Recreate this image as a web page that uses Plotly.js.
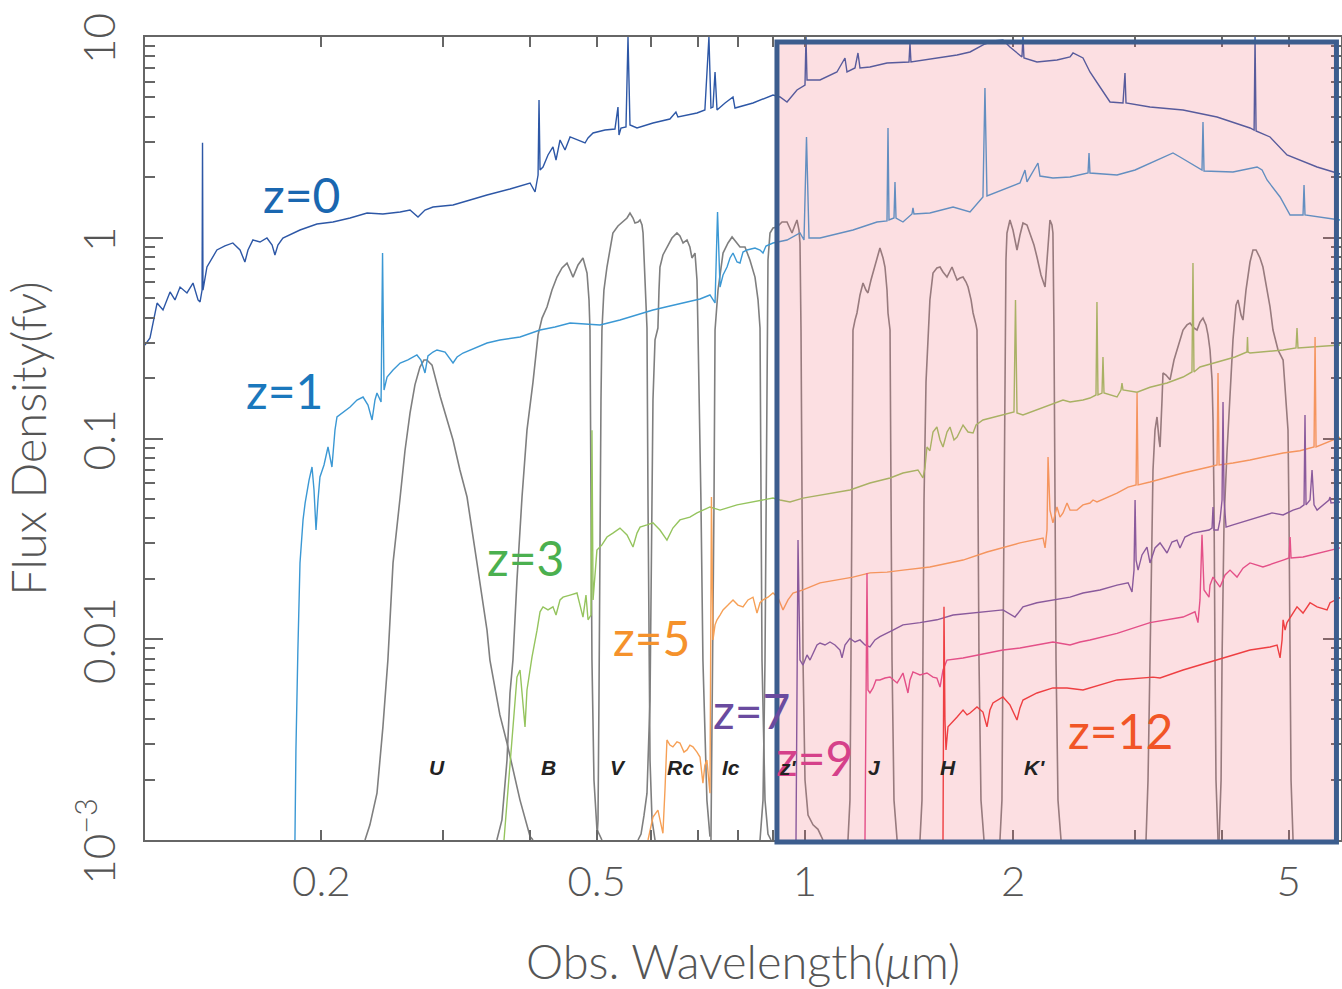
<!DOCTYPE html>
<html><head><meta charset="utf-8">
<script src="https://cdn.plot.ly/plotly-3.0.1.min.js"></script>
<style>html,body{margin:0;padding:0;background:#fff;}#chart{width:1342px;height:989px;}</style>
</head><body><div id="chart"></div>
<script>
// ---- spectra (observed wavelength in micron, flux density f_nu) ----
const z0Wave = [0.1112,0.1131,0.1158,0.1181,0.1209,0.1229,0.1250,0.1279,0.1305,0.1327,0.1336,0.1345,0.1347,0.1349,0.1367,0.1390,0.1413,0.1451,0.1490,0.1526,0.1551,0.1567,0.1593,0.1631,0.1669,0.1698,0.1714,0.1731,0.1760,0.1863,0.1971,0.2079,0.2201,0.2329,0.2455,0.2600,0.2687,0.2759,0.2824,0.2900,0.3100,0.3281,0.3471,0.3747,0.4006,0.4073,0.4114,0.4127,0.4141,0.4182,0.4252,0.4323,0.4367,0.4426,0.4500,0.4576,0.4699,0.4810,0.4858,0.4940,0.5140,0.5313,0.5367,0.5385,0.5421,0.5512,0.5549,0.5586,0.5718,0.6030,0.6379,0.6508,0.6552,0.6981,0.7167,0.7264,0.7313,0.7362,0.7413,0.7462,0.7664,0.7870,0.7922,0.8411,0.8990,0.9203,0.9419,0.9737,1.0000,1.0033,1.0067,1.0512,1.1121,1.1423,1.1500,1.1810,1.1928,1.2008,1.2412,1.3137,1.4134,1.4181,1.4228,1.5510,1.6587,1.7318,1.8199,1.8691,1.9322,1.9777,2.0584,2.0654,2.0723,2.1637,2.3128,2.4155,2.4395,2.5219,2.5811,2.6686,2.7592,2.8810,2.9001,2.9100,3.1520,3.5181,3.9391,4.3963,4.4566,4.4706,4.4857,4.6989,4.9720,5.4954,5.9318];
const z0Flux = [0.292,0.317,0.473,0.437,0.537,0.490,0.568,0.531,0.595,0.490,0.479,0.549,2.97,0.549,0.715,0.793,0.869,0.910,0.942,0.869,0.757,0.869,0.975,0.952,0.997,0.920,0.821,0.920,0.997,1.093,1.171,1.198,1.254,1.328,1.313,1.344,1.375,1.269,1.375,1.423,1.456,1.542,1.633,1.749,1.874,1.690,2.054,4.856,2.175,2.251,2.584,2.832,2.439,3.069,2.736,3.177,3.069,2.965,3.140,3.325,3.441,3.481,4.479,3.250,3.522,3.562,10,3.645,3.522,3.729,3.904,4.230,3.996,4.182,4.329,10,4.429,4.479,6.694,4.329,4.691,5.024,4.429,4.691,5.141,5.024,4.746,5.445,5.767,10,6.108,6.108,6.694,7.860,6.694,7.010,8.325,7.010,7.091,7.421,7.507,9.336,7.507,7.860,8.136,8.421,9.228,9.552,9.663,8.916,7.951,10,7.860,7.507,7.682,7.951,8.325,7.860,6.694,5.636,4.746,4.691,6.617,4.691,4.479,4.329,3.996,3.522,3.441,10,3.402,3.177,2.584,2.251,2.078];

const z1Wave = [0.1832,0.1838,0.1850,0.1863,0.1882,0.1895,0.1920,0.1939,0.1952,0.1965,0.1978,0.1991,0.2018,0.2045,0.2072,0.2093,0.2107,0.2150,0.2201,0.2252,0.2298,0.2336,0.2368,0.2391,0.2407,0.2440,0.2452,0.2464,0.2489,0.2539,0.2600,0.2668,0.2749,0.2786,0.2824,0.2852,0.2900,0.2939,0.3019,0.3100,0.3142,0.3205,0.3336,0.3471,0.3623,0.3874,0.4141,0.4352,0.4576,0.4810,0.5055,0.5403,0.5718,0.6030,0.6379,0.6753,0.7051,0.7289,0.7413,0.7475,0.7537,0.7613,0.7715,0.7792,0.7870,0.7976,0.8055,0.8136,0.8245,0.8467,0.8610,0.8696,0.8783,0.8990,0.9419,0.9835,0.9967,1.0050,1.0134,1.0512,1.1121,1.1731,1.2706,1.3137,1.3181,1.3225,1.3446,1.3491,1.3537,1.3854,1.4276,1.4323,1.4371,1.5153,1.6367,1.7318,1.8078,1.8199,1.8323,1.9322,2.0449,2.0793,2.0932,2.1709,2.1855,2.2818,2.4155,2.5645,2.5730,2.5811,2.8243,2.9991,3.1520,3.2910,3.4023,3.4826,3.6007,3.7471,3.7595,3.7725,4.1541,4.5009,4.5762,4.6527,4.8586,5.0233,5.2445,5.2620,5.2790,5.9318];
const z1Flux = [0.001,0.00281,0.00884,0.0240,0.0393,0.0477,0.0621,0.0721,0.0554,0.0350,0.0494,0.0643,0.0738,0.0907,0.0721,0.110,0.128,0.1355,0.1435,0.1555,0.1609,0.1468,0.1237,0.1555,0.1685,0.1520,0.839,0.1744,0.2025,0.2194,0.2377,0.2461,0.2606,0.2461,0.2120,0.2576,0.2697,0.2760,0.2697,0.2377,0.2547,0.2666,0.2824,0.2990,0.3095,0.3204,0.3471,0.3592,0.3761,0.3718,0.3676,0.3894,0.4123,0.4367,0.4571,0.4786,0.4953,0.5187,0.4732,1.344,0.5684,0.6522,0.7149,0.7927,0.8394,0.7570,0.7484,0.8492,0.8690,0.8890,0.8690,0.8394,0.9097,0.9416,0.9745,1.056,0.9745,3.177,0.9971,0.9971,1.044,1.093,1.198,1.212,3.522,1.226,1.254,1.896,1.254,1.198,1.313,1.407,1.313,1.328,1.423,1.344,1.596,5.572,1.614,1.729,1.874,2.175,1.896,2.357,2.030,1.984,2.007,2.101,2.644,2.101,2.054,2.175,2.357,2.525,2.644,2.525,2.357,2.175,3.772,2.150,2.126,2.251,2.175,1.940,1.596,1.298,1.298,1.832,1.298,1.226];

const z3Wave = [0.3673,0.3722,0.3747,0.3797,0.3835,0.3874,0.3913,0.3939,0.3965,0.4006,0.4032,0.4100,0.4141,0.4182,0.4252,0.4323,0.4367,0.4426,0.4470,0.4576,0.4683,0.4730,0.4777,0.4825,0.4858,0.4906,0.4922,0.4940,0.5004,0.5088,0.5174,0.5277,0.5403,0.5531,0.5642,0.5718,0.5776,0.5911,0.6030,0.6172,0.6317,0.6443,0.6596,0.6818,0.6981,0.7289,0.7537,0.7976,0.8411,0.8990,0.9203,0.9513,0.9934,1.0512,1.1121,1.1614,1.2412,1.3270,1.3854,1.4562,1.4805,1.4906,1.5006,1.5153,1.5310,1.5510,1.5672,1.5828,1.6040,1.6200,1.6418,1.6587,1.6919,1.7204,1.7494,1.7668,1.8078,1.9322,2.0045,2.0146,2.0247,2.0654,2.1637,2.2594,2.3598,2.4155,2.5219,2.5811,2.6333,2.6419,2.6508,2.6865,2.6953,2.7046,2.8243,2.8619,2.8714,2.8810,3.0190,3.1520,3.3356,3.5181,3.6241,3.6363,3.6485,3.7222,3.9391,4.1823,4.3518,4.3597,4.3670,4.3963,4.9079,5.1232,5.1404,5.1574,5.9318];
const z3Flux = [0.001,0.00177,0.00250,0.00444,0.00648,0.00703,0.00498,0.00366,0.00559,0.00727,0.00816,0.0111,0.0137,0.0145,0.0140,0.0145,0.0132,0.0157,0.0162,0.0166,0.0170,0.0148,0.0129,0.0166,0.0125,0.0132,0.110,0.0157,0.0278,0.0295,0.0323,0.0338,0.0358,0.0331,0.0288,0.0338,0.0362,0.0371,0.0380,0.0350,0.0312,0.0358,0.0393,0.0406,0.0426,0.0456,0.0440,0.0467,0.0483,0.0505,0.0494,0.0483,0.0505,0.0523,0.0542,0.0554,0.0600,0.0636,0.0673,0.0697,0.0636,0.0713,0.0907,0.0869,0.1077,0.1141,0.0983,0.0907,0.1077,0.1141,0.0983,0.1017,0.1167,0.1077,0.1065,0.1167,0.1237,0.1309,0.1355,0.4896,0.1340,0.1309,0.1387,0.1468,0.1555,0.1520,0.1555,0.1591,0.1647,0.4786,0.1647,0.1685,0.2547,0.1685,0.1609,0.1744,0.1890,0.1744,0.1700,0.1800,0.1890,0.2025,0.2145,0.7484,0.2145,0.2271,0.2404,0.2547,0.2697,0.3204,0.2697,0.2666,0.2760,0.2824,0.3551,0.2824,0.2922];

const z5Wave = [0.5931,0.5991,0.6030,0.6130,0.6192,0.6233,0.6275,0.6317,0.6379,0.6443,0.6531,0.6596,0.6685,0.6753,0.6818,0.6888,0.6981,0.7051,0.7120,0.7167,0.7215,0.7289,0.7325,0.7362,0.7413,0.7462,0.7537,0.7613,0.7740,0.7870,0.8000,0.8136,0.8272,0.8411,0.8524,0.8610,0.8696,0.8841,0.8990,0.9141,0.9294,0.9450,0.9609,0.9934,1.0512,1.1121,1.1731,1.2412,1.3137,1.3854,1.5153,1.6919,1.8323,2.0449,2.2080,2.2228,2.2373,2.2450,2.2594,2.2818,2.3128,2.3360,2.3598,2.3914,2.4155,2.4717,2.5219,2.5811,2.6075,2.6419,2.8243,2.9303,3.0090,3.0190,3.0290,3.1520,3.5181,3.8354,3.9391,3.9523,3.9660,4.1541,4.3963,4.9079,5.1915,5.4400,5.4588,5.4766,5.9318];
const z5Flux = [0.001,0.00119,0.00130,0.00141,0.00119,0.00108,0.00177,0.00315,0.00297,0.00291,0.00308,0.00304,0.00274,0.00281,0.00297,0.00291,0.00274,0.00259,0.00192,0.00236,0.00250,0.00171,0.0511,0.00992,0.0118,0.0125,0.0132,0.0140,0.0148,0.0157,0.0148,0.0145,0.0157,0.0162,0.0135,0.0152,0.0157,0.0162,0.0170,0.0161,0.0140,0.0157,0.0170,0.0176,0.0191,0.0197,0.0204,0.0214,0.0216,0.0221,0.0229,0.0248,0.0272,0.0302,0.0319,0.0285,0.0350,0.0809,0.0440,0.0380,0.0456,0.0406,0.0426,0.0477,0.0440,0.0440,0.0467,0.0477,0.0494,0.0483,0.0535,0.0573,0.0587,0.1685,0.0587,0.0607,0.0673,0.0721,0.0738,0.2120,0.0738,0.0755,0.0782,0.0847,0.0869,0.0907,0.3204,0.0907,0.1017];

const z7Wave = [0.9705,0.9737,0.9770,0.9802,0.9835,0.9934,1.0067,1.0168,1.0270,1.0407,1.0512,1.0688,1.0867,1.1049,1.1235,1.1310,1.1423,1.1614,1.1810,1.2008,1.2209,1.2412,1.2621,1.2832,1.3401,1.3854,1.4661,1.5510,1.6367,1.7318,1.8323,1.9322,2.0113,2.0654,2.1637,2.2818,2.4155,2.5219,2.6686,2.8243,2.9303,2.9687,2.9885,2.9991,3.0090,3.0290,3.0690,3.1203,3.1520,3.2047,3.2590,3.3356,3.3905,3.4473,3.4826,3.5404,3.6363,3.8354,3.8746,3.8872,3.8997,3.9523,3.9790,4.0056,4.0186,4.0325,4.0595,4.1541,4.3963,4.7304,4.9079,5.0733,5.1915,5.2620,5.2790,5.2970,5.3680,5.4040,5.4400,5.4954,5.7183,5.7382,5.7568,5.9318];
const z7Flux = [0.001,0.00498,0.0312,0.0157,0.00788,0.00744,0.00835,0.00788,0.00854,0.00936,0.00958,0.00936,0.00969,0.00936,0.00884,0.00807,0.00936,0.0101,0.00969,0.00992,0.00936,0.00915,0.00992,0.0103,0.0111,0.0118,0.0121,0.0125,0.0132,0.0135,0.0137,0.0140,0.0129,0.0145,0.0152,0.0157,0.0162,0.0170,0.0176,0.0186,0.0191,0.0172,0.0221,0.0494,0.0248,0.0221,0.0263,0.0288,0.0240,0.0285,0.0302,0.0269,0.0305,0.0312,0.0285,0.0323,0.0338,0.0350,0.0358,0.0456,0.0350,0.0350,0.0393,0.0494,0.152,0.0494,0.0362,0.0371,0.0393,0.0426,0.0416,0.0440,0.0451,0.0467,0.131,0.0467,0.0494,0.0697,0.0467,0.0440,0.0494,0.0511,0.0477,0.0483];

const z9Wave = [1.2209,1.2248,1.2291,1.2331,1.2412,1.2540,1.2666,1.2832,1.3049,1.3270,1.3586,1.3722,1.3854,1.4086,1.4181,1.4323,1.4661,1.5006,1.5310,1.5510,1.5672,1.5828,1.6040,1.6919,1.8323,1.9322,2.0449,2.1637,2.2818,2.4155,2.4970,2.5811,2.8243,3.1520,3.5181,3.6608,3.6973,3.7222,3.7471,3.7725,3.8354,3.8484,3.8872,3.9391,3.9790,4.0458,4.1133,4.2103,4.2948,4.3963,4.5897,4.9079,5.0058,5.0233,5.0394,5.2445,5.9318];
const z9Flux = [0.001,0.00498,0.0214,0.00559,0.00540,0.00572,0.00627,0.00627,0.00641,0.00648,0.00606,0.00641,0.00679,0.00540,0.00627,0.00687,0.00664,0.00679,0.00648,0.00641,0.00578,0.00703,0.00788,0.00807,0.00854,0.00884,0.00905,0.00936,0.00969,0.00936,0.00969,0.00992,0.0107,0.0121,0.0129,0.0137,0.0121,0.0157,0.0331,0.0176,0.0162,0.0186,0.0204,0.0191,0.0182,0.0209,0.0221,0.0204,0.0226,0.0240,0.0229,0.0248,0.0254,0.0323,0.0254,0.0257,0.0285];

const z12Wave = [1.5828,1.5853,1.5880,1.5932,1.5986,1.6093,1.6310,1.6587,1.6919,1.7146,1.7318,1.7724,1.8078,1.8323,1.8503,1.8691,1.9322,1.9777,2.0247,2.0449,2.0654,2.1637,2.2818,2.3914,2.5219,2.6686,2.8243,3.1834,3.2590,3.5181,3.7222,3.9391,4.3963,4.6989,4.8103,4.8586,4.8913,4.9079,4.9402,4.9720,5.0569,5.1404,5.2445,5.3680,5.4954,5.6803,5.7382,5.9318];
const z12Flux = [0.001,0.00498,0.0145,0.00396,0.00281,0.00366,0.00387,0.00410,0.00444,0.00420,0.00429,0.00460,0.00434,0.00366,0.00444,0.00482,0.00516,0.00471,0.00396,0.00455,0.00498,0.00540,0.00572,0.00572,0.00559,0.00592,0.00627,0.00648,0.00641,0.00703,0.00744,0.00788,0.00884,0.00915,0.00936,0.00807,0.00992,0.0125,0.0111,0.0121,0.0132,0.0145,0.0135,0.0152,0.0145,0.0140,0.0152,0.0161];

// ---- filter response curves (same axes) ----
const uWave = [0.2313,0.2351,0.2407,0.2455,0.2496,0.2539,0.2600,0.2642,0.2687,0.2731,0.2777,0.2814,0.2842,0.2891,0.2972,0.3039,0.3100,0.3172,0.3248,0.3357,0.3471,0.3505,0.3623,0.3710,0.3874,0.4006,0.4045];
const uResp = [0.001,0.00119,0.00171,0.00366,0.00788,0.0240,0.0511,0.0869,0.134,0.185,0.227,0.246,0.246,0.232,0.161,0.124,0.0983,0.0697,0.0511,0.0240,0.0111,0.00788,0.00420,0.00304,0.00158,0.00104,0.001];
const bWave = [0.3587,0.3648,0.3710,0.3747,0.3784,0.3835,0.3900,0.3965,0.4045,0.4114,0.4169,0.4238,0.4309,0.4381,0.4455,0.4530,0.4576,0.4621,0.4699,0.4777,0.4842,0.4874,0.4890,0.4906,0.4922,0.4955,0.5004,0.5088];
const bResp = [0.001,0.00126,0.0025,0.0054,0.00788,0.0197,0.0511,0.110,0.191,0.328,0.398,0.452,0.549,0.637,0.707,0.748,0.691,0.637,0.732,0.793,0.667,0.490,0.347,0.0494,0.00788,0.00199,0.00113,0.001];
const vWave = [0.5004,0.5022,0.5038,0.5055,0.5072,0.5088,0.5122,0.5174,0.5226,0.5277,0.5367,0.5458,0.5531,0.5586,0.5642,0.5679,0.5737,0.5776,0.5814,0.5834,0.5873,0.5911,0.5931,0.5971,0.6011,0.6071];
const vResp = [0.001,0.00126,0.00498,0.0494,0.156,0.347,0.549,0.715,0.889,1.056,1.144,1.198,1.254,1.328,1.254,1.184,1.198,1.226,1.157,1.056,0.616,0.355,0.0494,0.0025,0.00126,0.001];
const rcWave = [0.5737,0.5795,0.5853,0.5911,0.5971,0.6011,0.6030,0.6071,0.6130,0.6152,0.6172,0.6233,0.6317,0.6423,0.6531,0.6596,0.6665,0.6753,0.6818,0.6865,0.6935,0.6981,0.7003,0.7073,0.7120,0.7215,0.7289];
const rcResp = [0.001,0.00107,0.00133,0.00171,0.00498,0.0494,0.156,0.31,0.355,0.549,0.715,0.821,0.899,0.997,1.056,1.02,0.942,0.975,0.899,0.793,0.839,0.616,0.355,0.0494,0.00788,0.00158,0.00104];
const icWave = [0.7313,0.7362,0.7388,0.7413,0.7487,0.7613,0.7740,0.7845,0.7948,0.8055,0.8190,0.8325,0.8467,0.8553,0.8610,0.8638,0.8667,0.8754,0.8841,0.8931];
const icResp = [0.001,0.00788,0.0494,0.347,0.549,0.839,0.942,1.009,0.952,0.899,0.899,0.775,0.637,0.49,0.355,0.0494,0.00788,0.00158,0.00107,0.001];
const zpWave = [0.8610,0.8696,0.8754,0.8783,0.8812,0.8841,0.8901,0.8990,0.9111,0.9264,0.9419,0.9513,0.9577,0.9672,0.9737,0.9802,0.9835,0.9868,0.9901,0.9934,1.0000,1.0101,1.0270,1.0442,1.0617];
const zpResp = [0.001,0.00158,0.00788,0.0494,0.347,0.775,1.056,1.118,1.131,1.198,1.198,1.118,1.056,1.157,1.226,1.093,0.942,0.347,0.0494,0.00788,0.00199,0.00133,0.00119,0.00113,0.001];
const jWave = [1.1537,1.1614,1.1653,1.1692,1.1731,1.1810,1.1888,1.2008,1.2129,1.2248,1.2331,1.2455,1.2540,1.2706,1.2832,1.2966,1.3049,1.3137,1.3181,1.3270,1.3313,1.3358,1.3446,1.3586];
const jResp = [0.001,0.00158,0.00788,0.0494,0.347,0.389,0.422,0.519,0.595,0.549,0.531,0.616,0.667,0.793,0.889,0.793,0.715,0.549,0.422,0.347,0.0494,0.00788,0.00158,0.001];
const hWave = [1.4661,1.4759,1.4805,1.4859,1.4958,1.5058,1.5153,1.5310,1.5510,1.5672,1.5828,1.6040,1.6200,1.6310,1.6475,1.6587,1.6749,1.6919,1.7088,1.7204,1.7378,1.7494,1.7668,1.7724,1.7783,1.7842,1.7960,1.8142];
const hResp = [0.001,0.00158,0.00788,0.0494,0.191,0.347,0.49,0.667,0.707,0.715,0.675,0.637,0.691,0.715,0.652,0.616,0.63,0.637,0.602,0.568,0.49,0.422,0.368,0.347,0.0494,0.00788,0.00158,0.001];
const kWave = [1.9130,1.9258,1.9322,1.9387,1.9452,1.9517,1.9582,1.9777,1.9977,2.0247,2.0449,2.0654,2.0932,2.1141,2.1424,2.1637,2.1929,2.2228,2.2373,2.2594,2.2745,2.2818,2.2897,2.2973,2.3053,2.3206,2.3442];
const kResp = [0.001,0.00158,0.00788,0.0494,0.347,0.775,1.056,1.226,1.093,0.869,1.032,1.184,1.157,1.056,0.920,0.802,0.652,0.568,0.775,1.226,1.157,1.056,0.347,0.0494,0.00788,0.00158,0.001];
const ch1Wave = [3.1104,3.1311,3.1520,3.1730,3.1834,3.2047,3.2262,3.2478,3.2590,3.2804,3.2910,3.3245,3.3689,3.4138,3.4473,3.4826,3.5181,3.5645,3.6007,3.6485,3.6858,3.7222,3.7595,3.7973,3.8228,3.8484,3.8746,3.8872,3.8997,3.9131,3.9257,3.9523];
const ch1Resp = [0.001,0.00199,0.00788,0.0393,0.0697,0.110,0.128,0.0983,0.0907,0.1555,0.212,0.207,0.196,0.246,0.276,0.31,0.347,0.368,0.376,0.355,0.347,0.380,0.398,0.368,0.328,0.276,0.196,0.124,0.0494,0.00788,0.00199,0.001];
const ch2Wave = [3.9660,3.9928,4.0056,4.0325,4.0730,4.1133,4.1541,4.1960,4.2242,4.2668,4.2948,4.3380,4.3963,4.4402,4.4857,4.5450,4.5897,4.6527,4.6989,4.7458,4.8260,4.9079,4.9552,4.9888,5.0058,5.0233,5.0394,5.0733];
const ch2Resp = [0.001,0.00199,0.00788,0.0393,0.0869,0.1555,0.31,0.462,0.49,0.412,0.389,0.549,0.757,0.869,0.869,0.793,0.715,0.549,0.452,0.347,0.276,0.246,0.1555,0.110,0.0393,0.00788,0.00199,0.001];

// ---- labels ----
const zLabels = ["z=0","z=1","z=3","z=5","z=7","z=9","z=12"];
const zLabelWave = [0.1875,0.1772,0.3939,0.5991,0.8383,1.0338,2.853];
const zLabelFlux = [1.633,0.1744,0.0254,0.01026,0.00444,0.00259,0.00353];
const zLabelColors = ["#1a67b0","#1a78bd","#4bb04f","#f5922c","#6a4b9f","#d5418a","#f15526"];
const lineColors = ["#2d57a6","#3b98d4","#95c45e","#f6a056","#6e55a6","#e0488c","#ee3333"];

const filterNames = ["U","B","V","Rc","Ic","z'","J","H","K'"];
const filterLabelWave = [0.2939,0.4266,0.5367,0.6618,0.7817,0.9450,1.2621,1.6093,2.1494];
const filterLabelFlux = 0.00231;

const xTickVals = [0.2,0.5,1,2,5];
const xTickText = ["0.2","0.5","1","2","5"];
const xMinorVals = [0.3,0.4,0.6,0.7,0.8,0.9,3,4];
const yTickVals = [0.001,0.01,0.1,1,10];
const yTickText = ["10<sup>−3</sup>","0.01","0.1","1","10"];

const yMinor = [];
[0.001,0.01,0.1,1].forEach(d => { for (let k = 2; k <= 9; k++) yMinor.push(+(d*k).toPrecision(3)); });

const filters = [[uWave,uResp],[bWave,bResp],[vWave,vResp],[rcWave,rcResp],[icWave,icResp],[zpWave,zpResp],[jWave,jResp],[hWave,hResp],[kWave,kResp],[ch1Wave,ch1Resp],[ch2Wave,ch2Resp]];
const spectra = [[z0Wave,z0Flux],[z1Wave,z1Flux],[z3Wave,z3Flux],[z5Wave,z5Flux],[z7Wave,z7Flux],[z9Wave,z9Flux],[z12Wave,z12Flux]];

const traces = [];
filters.forEach(f => traces.push({x:f[0], y:f[1], type:'scatter', mode:'lines', line:{color:'#7f7f7f', width:1.6}, hoverinfo:'skip'}));
spectra.forEach((s,i) => traces.push({x:s[0], y:s[1], type:'scatter', mode:'lines', line:{color:lineColors[i], width:1.4}, name:zLabels[i]}));

const FONT = "Lato, 'Open Sans', sans-serif";
const annotations = [];
zLabels.forEach((t,i) => annotations.push({
  x: Math.log10(zLabelWave[i]), y: Math.log10(zLabelFlux[i]), xref:'x', yref:'y', text:t, showarrow:false,
  xanchor:'center', yanchor:'middle', font:{family:FONT, size:48, color:zLabelColors[i]}
}));
filterNames.forEach((t,i) => annotations.push({
  x: Math.log10(filterLabelWave[i]), y: Math.log10(filterLabelFlux), xref:'x', yref:'y', text:t, showarrow:false,
  xanchor:'center', yanchor:'middle', font:{family:"'Liberation Sans', Arial, sans-serif", size:21, color:'#222', style:'italic', weight:700}
}));

const axisCommon = {
  type:'log', showgrid:false, zeroline:false, showline:true, linecolor:'#666', linewidth:2,
  ticks:'inside', tickcolor:'#666', tickwidth:2, mirror:'ticks', automargin:false
};

const layout = {
  width:1342, height:989,
  margin:{l:145, r:1, t:37, b:149},
  paper_bgcolor:'#fff', plot_bgcolor:'#fff',
  showlegend:false,
  xaxis: Object.assign({}, axisCommon, {
    range:[-0.95376, 0.77457],
    tickmode:'array', tickvals:xTickVals, ticktext:xTickText, ticklen:10,
    minor:{tickmode:'array', tickvals:xMinorVals, ticks:'inside', ticklen:10, tickwidth:2, tickcolor:'#666'},
    tickfont:{family:FONT, size:42, color:'#555', weight:300},
    ticklabelstandoff:4,
    title:{text:'Obs. Wavelength(<i>μ</i>m)', font:{family:FONT, size:47, color:'#555', weight:300}, standoff:44}
  }),
  yaxis: Object.assign({}, axisCommon, {
    range:[-3, 1],
    tickmode:'array', tickvals:yTickVals, ticktext:yTickText, ticklen:18, tickangle:-90,
    tickfont:{family:FONT, size:44, color:'#555', weight:300},
    ticklabelstandoff:10, ticklabelshift:8,
    minor:{tickmode:'array', tickvals:yMinor, ticks:'inside', ticklen:10, tickwidth:2, tickcolor:'#666'},
    title:{text:'Flux Density(f<i>ν</i>)', font:{family:FONT, size:47, color:'#555', weight:300}, standoff:5}
  }),
  shapes:[{
    type:'rect', xref:'paper', yref:'paper', x0:0.5284, x1:0.9962, y0:-0.0025, y1:0.9938,
    fillcolor:'rgba(240,110,125,0.22)', line:{color:'#3c5d8e', width:5}, layer:'above'
  }],
  annotations: annotations
};

Plotly.newPlot('chart', traces, layout, {displayModeBar:false, staticPlot:true});
</script>
</body></html>
